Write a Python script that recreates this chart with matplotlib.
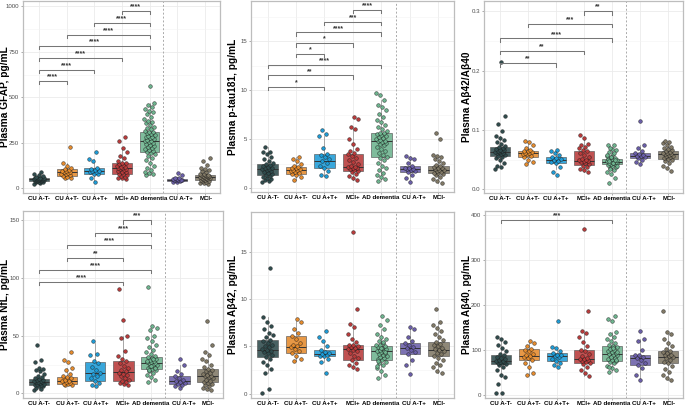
import numpy as np
import matplotlib
matplotlib.use("Agg")
import matplotlib.pyplot as plt
from matplotlib.ticker import MultipleLocator
from matplotlib.transforms import offset_copy

plt.rcParams['font.family'] = ['Liberation Sans', 'DejaVu Sans']

groups = ["CU A-T-", "CU A+T-", "CU A+T+", "MCI+", "AD dementia", "CU A-T+", "MCI-"]
colors = ["#2f4b4c", "#e48a2c", "#1d9bd6", "#b83a3a", "#6db38e", "#6a5ea8", "#807865"]

# ---- GFAP ----
gfap_pts = [
    [25, 30, 33, 36, 38, 40, 42, 43, 45, 46, 47, 48, 49, 50, 50, 51, 52, 53, 55, 56, 57, 58, 60, 63, 66, 72, 80, 88],
    [55, 60, 65, 70, 74, 78, 82, 86, 88, 90, 94, 98, 104, 108, 115, 125, 140, 230],
    [38, 60, 78, 82, 88, 92, 95, 97, 102, 108, 112, 150, 160, 200],
    [50, 55, 60, 65, 70, 75, 78, 82, 88, 92, 96, 100, 105, 108, 110, 112, 116, 120, 125, 130, 135, 138, 140, 150,
     165, 180, 200, 220, 260, 285],
    [75, 80, 85, 90, 100, 110, 125, 140, 155, 170, 180, 190, 195, 200, 205, 210, 218, 225, 230, 235, 240, 245, 250,
     255, 258, 262, 266, 270, 275, 280, 285, 290, 295, 300, 305, 310, 312, 318, 325, 332, 340, 350, 360, 365, 370,
     380, 395, 410, 420, 425, 435, 450, 460, 470, 565],
    [35, 38, 42, 44, 46, 47, 48, 49, 51, 53, 56, 60, 75, 85],
    [22, 28, 32, 36, 40, 42, 45, 48, 50, 53, 56, 58, 60, 62, 63, 65, 67, 68, 70, 72, 74, 75, 78, 82, 88, 95, 100,
     108, 115, 130, 150, 170],
]
# (q1, median, q3, whisker low, whisker high)
gfap_box = [(42, 50, 58, 25, 85), (70, 88, 108, 55, 140), (78, 95, 112, 38, 160), (78, 110, 140, 50, 220),
            (200, 258, 312, 75, 470), (43, 48, 53, 35, 60), (45, 62, 75, 22, 115)]
gfap_sig = [(1, 2, 591, "****"), (1, 3, 651, "****"), (1, 4, 718, "****"), (1, 5, 785, "****"),
            (2, 5, 845, "****"), (3, 5, 909, "****"), (4, 5, 976, "****")]

# ---- p-tau181 ----
ptau_pts = [
    [0.6, 0.7, 0.8, 0.9, 1.0, 1.1, 1.2, 1.3, 1.4, 1.5, 1.6, 1.7, 1.8, 1.9, 1.9, 2.0, 2.1, 2.2, 2.3, 2.4, 2.5, 2.6,
     2.8, 3.0, 3.2, 3.5, 3.7, 3.7, 4.2],
    [0.85, 1.1, 1.3, 1.4, 1.5, 1.6, 1.7, 1.8, 1.85, 1.9, 2.0, 2.1, 2.2, 2.3, 2.5, 2.8, 3.0, 3.2],
    [1.2, 1.3, 1.7, 2.0, 2.3, 2.6, 2.8, 3.0, 3.2, 3.4, 3.5, 4.1, 5.3, 5.5, 5.9],
    [0.8, 1.0, 1.2, 1.4, 1.6, 1.7, 1.8, 1.9, 2.0, 2.1, 2.2, 2.2, 2.3, 2.5, 2.7, 2.9, 3.1, 3.3, 3.5, 3.6, 3.8, 4.0,
     4.5, 5.0, 6.0, 6.2, 7.1, 7.3],
    [0.7, 0.9, 1.1, 1.3, 1.5, 1.8, 2.0, 2.3, 2.6, 2.9, 3.1, 3.2, 3.4, 3.6, 3.8, 4.0, 4.2, 4.4, 4.5, 4.6, 4.7, 4.8,
     4.8, 4.9, 5.0, 5.1, 5.2, 5.3, 5.4, 5.5, 5.6, 5.65, 5.8, 6.0, 6.2, 6.4, 6.7, 7.0, 7.3, 7.6, 8.0, 8.3, 8.5, 9.0,
     9.5, 9.7],
    [0.6, 1.0, 1.3, 1.6, 1.7, 1.8, 1.9, 1.9, 2.0, 2.1, 2.3, 2.6, 3.0, 3.1, 3.3],
    [0.5, 0.7, 0.9, 1.1, 1.3, 1.4, 1.5, 1.5, 1.6, 1.7, 1.8, 1.8, 1.9, 2.0, 2.1, 2.2, 2.3, 2.4, 2.6, 2.8, 3.0, 3.2,
     3.3, 3.4, 5.0, 5.6],
]
ptau_box = [(1.3, 1.9, 2.5, 0.6, 4.2), (1.4, 1.85, 2.2, 0.85, 3.2), (2.0, 2.8, 3.5, 1.2, 5.3),
            (1.7, 2.2, 3.5, 0.8, 6.0), (3.2, 4.8, 5.65, 0.7, 9.0), (1.6, 1.9, 2.3, 0.6, 3.3),
            (1.5, 1.8, 2.3, 0.5, 3.4)]
ptau_sig = [(1, 3, 10.35, "*"), (1, 4, 11.5, "**"), (1, 5, 12.6, "****"), (2, 3, 13.7, "*"),
            (2, 4, 14.8, "*"), (2, 5, 15.9, "****"), (3, 5, 17.0, "***"), (4, 5, 18.2, "****")]

# ---- Abeta42/40 ratio ----
ratio_pts = [
    [0.035, 0.037, 0.040, 0.045, 0.050, 0.053, 0.055, 0.056, 0.058, 0.060, 0.061, 0.062, 0.063, 0.063, 0.064,
     0.065, 0.066, 0.067, 0.068, 0.070, 0.071, 0.073, 0.076, 0.080, 0.084, 0.086, 0.090, 0.098, 0.110, 0.123,
     0.214],
    [0.043, 0.046, 0.050, 0.055, 0.057, 0.059, 0.060, 0.061, 0.062, 0.063, 0.064, 0.065, 0.067, 0.070, 0.074,
     0.079, 0.082],
    [0.025, 0.030, 0.038, 0.044, 0.046, 0.048, 0.050, 0.051, 0.053, 0.055, 0.058, 0.062, 0.064, 0.066],
    [0.030, 0.032, 0.035, 0.038, 0.040, 0.042, 0.044, 0.046, 0.047, 0.048, 0.049, 0.050, 0.052, 0.055, 0.058,
     0.062, 0.065, 0.067, 0.070, 0.072, 0.074, 0.076, 0.086, 0.091],
    [0.010, 0.020, 0.026, 0.030, 0.033, 0.036, 0.038, 0.040, 0.041, 0.042, 0.043, 0.044, 0.045, 0.045, 0.046,
     0.046, 0.047, 0.048, 0.049, 0.050, 0.051, 0.052, 0.053, 0.055, 0.057, 0.060, 0.063, 0.066, 0.068, 0.075,
     0.075, 0.035, 0.039, 0.044, 0.047, 0.050, 0.054, 0.058, 0.062, 0.070],
    [0.043, 0.046, 0.050, 0.053, 0.055, 0.056, 0.057, 0.058, 0.060, 0.061, 0.064, 0.070, 0.075, 0.115],
    [0.031, 0.036, 0.040, 0.044, 0.048, 0.050, 0.052, 0.053, 0.055, 0.056, 0.057, 0.058, 0.059, 0.060, 0.061,
     0.062, 0.063, 0.064, 0.066, 0.068, 0.070, 0.072, 0.075, 0.078, 0.080, 0.082],
]
ratio_box = [(0.056, 0.063, 0.071, 0.037, 0.090), (0.055, 0.061, 0.065, 0.045, 0.080),
             (0.045, 0.050, 0.055, 0.035, 0.066), (0.041, 0.048, 0.065, 0.030, 0.086),
             (0.042, 0.046, 0.052, 0.030, 0.068), (0.053, 0.057, 0.061, 0.045, 0.075),
             (0.052, 0.059, 0.064, 0.035, 0.080)]
ratio_sig = [(1, 3, 0.2125, "**"), (1, 4, 0.233, "**"), (1, 5, 0.254, "****"), (2, 5, 0.279, "***"),
             (4, 5, 0.300, "**")]

# ---- NfL ----
nfl_pts = [
    [3, 4, 5, 6, 6.5, 7, 7.5, 8, 8.5, 9, 9.5, 10, 10, 10.5, 11, 11.5, 12, 12.5, 13, 14, 15, 17, 19, 20, 21, 22, 27,
     29, 42],
    [7, 7.5, 8, 8.5, 9, 10, 10.5, 11, 12, 13, 14, 15, 17, 20, 22, 27, 29, 36],
    [6, 7, 9, 11, 13, 15, 17, 18, 20, 23, 26, 28, 33, 34, 45],
    [7.5, 8, 9, 10, 11, 12, 13, 15, 16, 17, 18, 19, 20, 22, 24, 26, 28, 30, 32, 37, 48, 50, 64, 90],
    [10, 12, 14, 16, 18, 19, 20, 21, 22, 23, 24, 25, 25, 26, 26, 27, 27, 28, 29, 30, 31, 31.5, 32, 34, 36, 38, 40,
     42, 45, 48, 50, 55, 57, 58, 92, 22, 24, 28, 30, 20],
    [5, 6, 7, 8, 9, 10, 11, 12, 13, 15, 17, 19, 25, 30],
    [3, 4, 5, 6, 7, 8, 9, 10, 11, 12, 13, 14, 15, 15, 16, 17, 18, 19, 20, 21, 23, 25, 28, 30, 33, 36, 42, 63],
]
nfl_box = [(7, 10, 12.5, 3, 20), (8.5, 10.5, 14, 7, 22), (11, 17.5, 27.5, 6, 44), (11, 18.5, 28, 7.5, 50),
           (21, 26.5, 31.5, 10, 55), (8, 11, 15, 5, 25), (10, 15, 21, 3, 36)]
nfl_sig = [(1, 4, 96.4, "****"), (1, 5, 106.9, "****"), (2, 4, 117.6, "**"), (2, 5, 128.6, "****"),
           (3, 5, 139.3, "****"), (4, 5, 150.0, "***")]

# ---- Abeta42 ----
ab42_pts = [
    [0.1, 0.5, 2.2, 2.6, 3.0, 3.4, 3.7, 3.9, 4.1, 4.3, 4.4, 4.5, 4.6, 4.7, 4.9, 5.0, 5.2, 5.4, 5.6, 5.7, 6.0, 6.2,
     6.4, 6.8, 7.2, 7.6, 8.1, 13.3],
    [3.5, 3.7, 4.0, 4.3, 4.5, 4.7, 4.9, 5.0, 5.2, 5.4, 5.8, 6.1, 6.4, 6.8, 7.6, 7.9],
    [2.2, 3.4, 3.7, 3.95, 4.0, 4.1, 4.2, 4.3, 4.4, 4.6, 5.0, 5.6, 6.0, 6.6],
    [2.6, 2.8, 3.0, 3.3, 3.6, 3.8, 4.0, 4.3, 4.5, 4.6, 4.7, 4.8, 4.9, 5.0, 5.1, 5.2, 5.5, 5.8, 6.3, 7.0, 7.4, 9.0,
     17.1],
    [1.7, 2.0, 2.4, 2.7, 3.0, 3.2, 3.4, 3.6, 3.7, 3.8, 3.9, 4.0, 4.1, 4.2, 4.3, 4.4, 4.5, 4.5, 4.6, 4.7, 4.8, 4.9,
     5.0, 5.1, 5.2, 5.4, 5.6, 5.8, 6.0, 6.3, 6.8, 7.3, 7.8, 8.2, 3.5, 4.4, 4.8, 2.9, 5.5],
    [2.1, 3.0, 3.6, 4.2, 4.4, 4.6, 4.8, 4.9, 5.1, 5.4, 5.6, 6.0, 6.8, 7.0],
    [2.2, 2.4, 2.8, 3.0, 3.3, 3.6, 3.8, 4.0, 4.2, 4.3, 4.5, 4.6, 4.7, 4.8, 5.0, 5.2, 5.3, 5.5, 5.7, 6.0, 6.3, 6.6,
     6.9, 7.3, 7.6, 8.9],
]
ab42_box = [(3.9, 4.6, 5.7, 2.2, 8.1), (4.3, 4.9, 6.1, 3.5, 7.7), (3.95, 4.2, 4.6, 3.4, 5.6),
            (3.6, 4.7, 5.2, 2.6, 7.4), (3.6, 4.5, 5.0, 1.7, 6.8), (4.2, 4.8, 5.4, 3.0, 7.0),
            (4.0, 4.6, 5.5, 2.2, 7.6)]
ab42_sig = []

# ---- Abeta40 ----
ab40_pts = [
    [4, 5, 25, 40, 45, 55, 62, 66, 68, 70, 72, 73, 74, 75, 76, 78, 80, 82, 85, 88, 92, 98, 105, 112, 118, 125, 128],
    [45, 48, 62, 72, 78, 82, 84, 86, 88, 92, 97, 100, 103, 108, 115, 120],
    [62, 66, 72, 76, 80, 84, 86, 88, 90, 93, 98, 105, 107, 165],
    [43, 48, 55, 62, 68, 72, 74, 76, 78, 79, 80, 83, 87, 92, 97, 101, 108, 118, 130, 138, 143, 187, 370],
    [52, 55, 60, 65, 70, 73, 75, 78, 80, 83, 86, 88, 90, 92, 94, 96, 98, 100, 103, 106, 109, 112, 116, 120, 125,
     130, 135, 140, 165, 170, 175, 85, 95, 105, 62, 77],
    [33, 45, 60, 67, 72, 78, 82, 85, 88, 90, 100, 120, 125, 143],
    [33, 38, 45, 52, 58, 64, 70, 74, 78, 82, 85, 86, 88, 90, 93, 96, 97, 102, 108, 115, 125, 135, 140, 187],
]
ab40_box = [(68, 75, 88, 40, 120), (78, 86, 103, 45, 120), (76, 86, 93, 62, 107), (72, 79, 101, 43, 138),
            (75, 92, 109, 52, 140), (67, 82, 90, 33, 125), (70, 85, 97, 33, 135)]
ab40_sig = [(1, 5, 390, "***")]

W, H = 685, 413
fig = plt.figure(figsize=(W / 100, H / 100), dpi=100)

# small horizontal nudges (pixels) so neighbouring x labels don't collide
label_nudge = [0, 0, 0, 0, -0.5, 4, 1]


def panel(rect, pts, box, sig, ylim, major, minor, ylabel, fmt, label_px):
    x0, y0, x1, y1 = rect
    ax = fig.add_axes([x0 / W, 1 - y1 / H, (x1 - x0) / W, (y1 - y0) / H])
    pos = np.arange(1, len(groups) + 1)
    stats = [dict(q1=b[0], med=b[1], q3=b[2], whislo=b[3], whishi=b[4], fliers=[]) for b in box]
    bp = ax.bxp(stats, positions=pos, widths=0.72, patch_artist=True, showfliers=False,
                boxprops=dict(linewidth=0.5, edgecolor="#555555"),
                whiskerprops=dict(linewidth=0.5, color="#8a8a8a"),
                capprops=dict(linewidth=0),
                medianprops=dict(linewidth=0.7, color="#333333"))
    for patch, c in zip(bp["boxes"], colors):
        patch.set_facecolor(c)
        patch.set_alpha(0.88)
    for i, vals in enumerate(pts):
        n = len(vals)
        jit = ((np.arange(n) * 0.618034 + 0.3 * i) % 1 - 0.5) * 0.38
        ax.scatter(pos[i] + jit, vals, s=7, color=colors[i], edgecolor="#1a1a1a",
                   linewidth=0.3, zorder=4)
    span = ylim[1] - ylim[0]
    for a, b, y, lab in sig:
        ax.plot([a, a, b, b], [y - span * 0.018, y, y, y - span * 0.018], color="#767676", lw=0.75, zorder=5)
        ax.text((a + b) / 2, y + span * 0.003, lab, ha="center", va="bottom", fontsize=5,
                fontweight="bold", color="#333333")
    ax.axvline(5.5, color="#aaaaaa", lw=0.7, ls=(0, (2, 2)), zorder=1)
    ax.set_xlim(0.42, 7.55)
    ax.set_ylim(*ylim)
    ax.yaxis.set_major_locator(MultipleLocator(major))
    ax.yaxis.set_minor_locator(MultipleLocator(minor))
    ax.yaxis.set_major_formatter(plt.FormatStrFormatter(fmt))
    ax.set_xticks(pos)
    ax.set_xticklabels([])
    for p, g, dx in zip(pos, groups, label_nudge):
        tr = offset_copy(ax.get_xaxis_transform(), fig=fig, x=dx, y=-3.2, units="dots")
        ax.text(p, 0, g, transform=tr, ha="center", va="top", fontsize=4.4,
                fontweight="bold", color="black")
    ax.tick_params(axis="x", length=1.5, pad=1.5, color="#888888", width=0.5)
    ax.tick_params(axis="y", which="major", length=1.5, pad=1.2, labelsize=4.4, labelcolor="#4d4d4d",
                   color="#888888", width=0.5)
    ax.tick_params(axis="y", which="minor", length=0)
    ax.grid(True, which="major", color="#ebebeb", lw=0.6, zorder=0)
    ax.grid(True, which="minor", axis="y", color="#f3f3f3", lw=0.4, zorder=0)
    ax.set_axisbelow(True)
    for s in ax.spines.values():
        s.set_color("#bdbdbd")
        s.set_linewidth(0.9)
    ax.set_ylabel(ylabel, fontsize=7.3, fontweight="bold")
    ax.yaxis.set_label_coords((label_px - x0) / (x1 - x0), 0.5)
    return ax


panel((23, 1, 220, 193), gfap_pts, gfap_box, gfap_sig, (-25, 1030), 250, 125,
      "Plasma GFAP, pg/mL", "%d", 10)
panel((251, 1, 454, 192), ptau_pts, ptau_box, ptau_sig, (-0.4, 19.1), 5, 2.5,
      "Plasma p-tau181, pg/mL", "%d", 238)
panel((484, 1, 683, 193), ratio_pts, ratio_box, ratio_sig, (-0.006, 0.317), 0.1, 0.05,
      "Plasma A\u03b242/A\u03b240", "%.1f", 472)
panel((23, 211, 223, 398), nfl_pts, nfl_box, nfl_sig, (-4, 158), 50, 25,
      "Plasma NfL, pg/mL", "%d", 10)
panel((251, 212, 454, 398), ab42_pts, ab42_box, ab42_sig, (-0.45, 19.2), 5, 2.5,
      "Plasma A\u03b242, pg/mL", "%d", 238)
panel((485, 211, 683, 398), ab40_pts, ab40_box, ab40_sig, (-7, 410), 100, 50,
      "Plasma A\u03b240, pg/mL", "%d", 472)

fig.savefig("out.png", dpi=100)
